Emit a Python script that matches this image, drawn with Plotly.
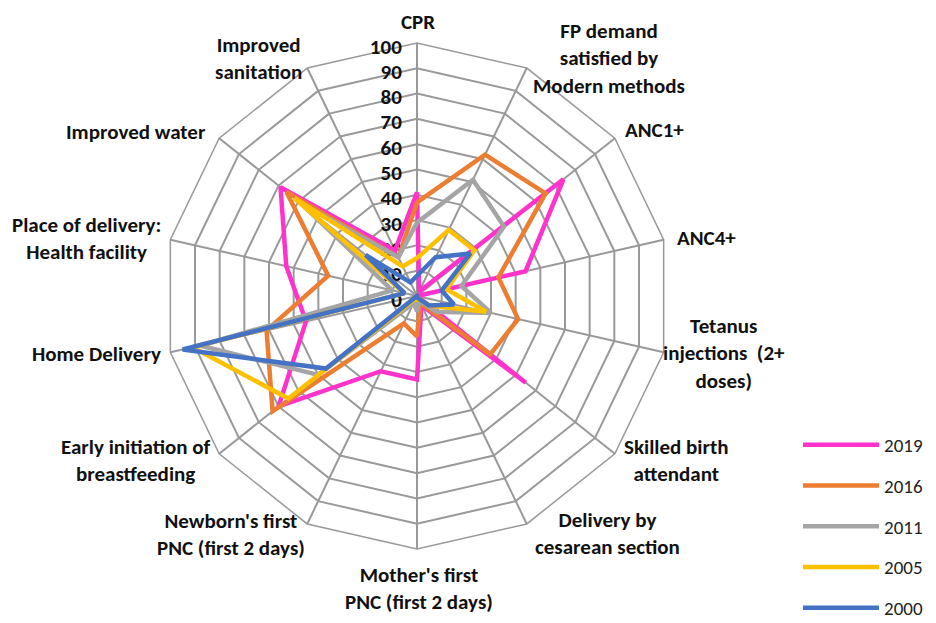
import plotly.graph_objects as go

categories = [
    "CPR",
    "FP demand<br>satisfied by<br>Modern methods",
    "ANC1+",
    "ANC4+",
    "Tetanus<br>injections  (2+<br>doses)",
    "Skilled birth<br>attendant",
    "Delivery by<br>cesarean section",
    "Mother's first<br>PNC (first 2 days)",
    "Newborn's first<br>PNC (first 2 days)",
    "Early initiation of<br>breastfeeding",
    "Home Delivery",
    "Place of delivery:<br>Health facility",
    "Improved water",
    "Improved<br>sanitation",
]

years = ["2019", "2016", "2011", "2005", "2000"]
v2019 = [41, 2, 74, 44, 0, 55, 4, 33, 33, 70, 45, 53, 69, 20]
v2016 = [37, 62, 65, 33, 41, 37, 3, 16, 12, 73, 61, 36, 66, 17]
v2011 = [29, 51, 44, 18, 30, 10, 2, 6, 3, 50, 88, 10, 59, 17]
v2005 = [15, 29, 29, 12, 28, 6, 1, 2, 1, 65, 91, 5, 62, 13]
v2000 = [8, 17, 27, 10, 15, 6, 1, 0, 0, 46, 95, 5, 26, 6]
series = [v2019, v2016, v2011, v2005, v2000]
colors = ["#FF33CC", "#ED7D31", "#A5A5A5", "#FFC000", "#4472C4"]

radial_ticks = list(range(0, 101, 10))

# page-pixel centres of the category label blocks (text layout only)
label_pos = [
    (418, 22), (609, 58), (654, 130), (706, 238), (724, 353),
    (676, 460), (607, 533), (419, 588), (231, 534), (136, 460),
    (96, 354), (86, 238), (136, 132), (258, 58),
]

FONT = "Carlito, Lato, Liberation Sans, sans-serif"

BODY = 8              # default page body margin
W, H = 936 - BODY, 623 - BODY
CX, CY, R = 417 - BODY, 296 - BODY, 253

fig = go.Figure()
for name, vals, col in zip(years, series, colors):
    fig.add_trace(go.Scatterpolar(
        r=vals + [vals[0]],
        theta=categories + [categories[0]],
        mode="lines",
        name=name,
        legendgroup=name,
        line=dict(color=col, width=4.5),
    ))

annotations = []
for text, (px, py) in zip(categories, label_pos):
    sx, sy = px - BODY, py - BODY
    annotations.append(dict(
        text=f"<b>{text}</b>",
        xref="paper", yref="paper",
        x=(sx - (CX - R)) / (2 * R),
        y=1 - (sy - (CY - R)) / (2 * R),
        xanchor="center", yanchor="middle", align="center",
        showarrow=False,
        font=dict(family=FONT, size=21, color="#111111"),
    ))

fig.update_layout(
    width=W, height=H,
    margin=dict(l=CX - R, r=W - (CX + R), t=CY - R, b=H - (CY + R), autoexpand=False),
    paper_bgcolor="white",
    plot_bgcolor="white",
    font=dict(family=FONT, size=21, color="#111111"),
    annotations=annotations,
    polar=dict(
        domain=dict(x=[0, 1], y=[0, 1]),
        bgcolor="white",
        gridshape="linear",
        radialaxis=dict(
            range=[0, 100],
            tickvals=radial_ticks,
            ticktext=[f"<b>{t}</b>" for t in radial_ticks],
            angle=90,
            side="counterclockwise",
            showline=False,
            ticks="",
            gridcolor="#999999",
            gridwidth=1.5,
            tickfont=dict(family=FONT, size=21, color="#111111"),
            layer="below traces",
        ),
        angularaxis=dict(
            type="category",
            categoryorder="array",
            categoryarray=categories,
            direction="clockwise",
            rotation=90,
            showline=True,
            linecolor="#999999",
            linewidth=1.5,
            gridcolor="#999999",
            gridwidth=1.5,
            ticks="",
            showticklabels=False,
            layer="below traces",
        ),
    ),
    legend=dict(
        xref="container", yref="container",
        x=790 / W, y=1 - 418 / H, xanchor="left", yanchor="top",
        font=dict(family=FONT, size=19, color="#222222"),
        tracegroupgap=13,
        itemwidth=76,
        bgcolor="rgba(0,0,0,0)",
    ),
)

fig.write_html("out.html")
